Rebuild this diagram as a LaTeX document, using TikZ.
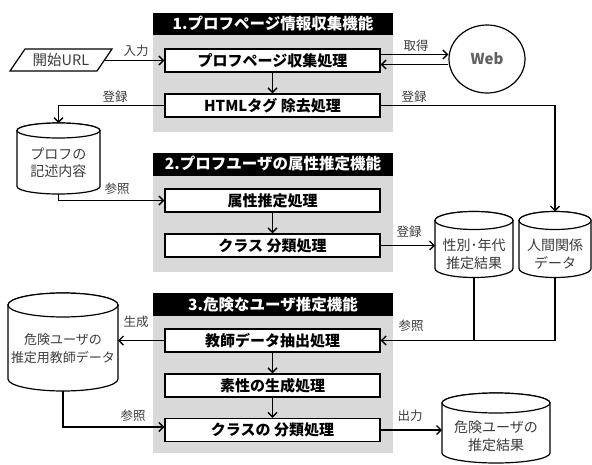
\documentclass[tikz,border=0pt]{standalone}
\usepackage{fontspec}
\setmainfont{Noto Sans CJK JP}
\usetikzlibrary{arrows.meta,shapes.geometric}
\definecolor{panelgray}{RGB}{217,217,217}
\definecolor{txtgray}{RGB}{60,60,60}
\newcommand\dbshape[3]{%
  \draw[dbline] ([yshift=-#2pt]#1.north west) -- ([yshift=#2pt]#1.south west)
    arc[start angle=180,end angle=360,x radius=#3pt,y radius=#2pt]
    -- ([yshift=-#2pt]#1.north east)
    arc[start angle=0,end angle=180,x radius=#3pt,y radius=#2pt] -- cycle;
  \draw[dbline] ([yshift=-#2pt]#1.north) ellipse[x radius=#3pt,y radius=#2pt];
}
\begin{document}
\begin{tikzpicture}[x=1pt,y=-1pt,
  >={Straight Barb[length=4.5pt,width=9pt]},
  conn/.style={draw, line width=1.4pt, ->},
  line/.style={draw, line width=1.4pt},
  proc/.style={draw, line width=1.2pt, fill=white, minimum width=215pt, minimum height=23pt, inner sep=0pt, font=\fontsize{15}{17}\selectfont\bfseries},
  hdr/.style={fill=black, text=white, minimum width=240pt, minimum height=22pt, inner sep=0pt, font=\fontsize{15.5}{17}\selectfont\bfseries},
  panel/.style={fill=panelgray, draw=none, minimum width=240pt, inner sep=0pt, anchor=north west},
  db/.style={rectangle, draw=none, inner sep=0pt, outer sep=0pt},
  dbline/.style={draw, line width=1.2pt, fill=white},
  dbtext/.style={align=center, font=\fontsize{14}{17.5}\selectfont, text=txtgray, inner sep=0pt},
  lbl/.style={font=\fontsize{12.5}{14}\selectfont, inner sep=0pt, text=txtgray}
]
\useasboundingbox (0,0) rectangle (592,464);

% panels
\node[panel, minimum height=97pt] (g1) at (153,35) {};
\node[panel, minimum height=97pt] (g2) at (153,175) {};
\node[panel, minimum height=137pt] (g3) at (153,316) {};
\node[hdr] (h1) at (273,24) {1.プロフページ情報収集機能};
\node[hdr, minimum height=23pt] (h2) at (273,164) {2.プロフユーザの属性推定機能};
\node[hdr, minimum height=23pt] (h3) at (273,304.5) {3.危険なユーザ推定機能};

% process boxes
\node[proc] (b1) at (272.5,60.5) {プロフページ収集処理};
\node[proc] (b2) at (272.5,105.5) {HTMLタグ 除去処理};
\node[proc] (b3) at (272.5,200.5) {属性推定処理};
\node[proc] (b4) at (272.5,245.5) {クラス 分類処理};
\node[proc] (b5) at (272.5,340.5) {教師データ抽出処理};
\node[proc] (b6) at (272.5,385.5) {素性の生成処理};
\node[proc] (b7) at (272.5,430) {クラスの 分類処理};

\draw[conn] (b1) -- (b2);
\draw[conn] (b3) -- (b4);
\draw[conn] (b5) -- (b6);
\draw[conn] (b6) -- (b7);

% start URL
\draw[line width=1.2pt] (25,49) -- (112,49) -- (97,71) -- (10,71) -- cycle;
\node[font=\fontsize{14.5}{16}\selectfont, text=txtgray, inner sep=0pt] (url) at (61,60) {開始URL};
\coordinate (urlout) at (104.5,60.5);
\draw[conn] (urlout) -- (b1.west);
\node[lbl] (l1) at (136,51) {入力};

% web
\node[ellipse, draw, line width=1.2pt, minimum width=76pt, minimum height=68pt, inner sep=0pt, font=\fontsize{15}{17}\selectfont\bfseries, text=black!62] (web) at (487,59) {Web};
\draw[conn] ([yshift=6pt]b1.east) -- ([yshift=6pt]b1.east -| web.west);
\draw[conn] ([yshift=-4pt]b1.east -| web.west) -- ([yshift=-4pt]b1.east);
\node[lbl] (l2) at (416,46) {取得};

% databases
\node[db, minimum width=83pt, minimum height=71pt] (prof) at (58.5,158.5) {};
\dbshape{prof}{7.5}{41.5}
\node[dbtext] (profT) at (58.5,163) {プロフの\\記述内容};
\node[db, minimum width=78pt, minimum height=66pt] (gender) at (474,244.5) {};
\dbshape{gender}{9}{39}
\node[dbtext] (genderT) at (474,254) {性別･年代\\推定結果};
\node[db, minimum width=72pt, minimum height=66pt] (human) at (555,244.5) {};
\dbshape{human}{9}{36}
\node[dbtext] (humanT) at (555,254) {人間関係\\データ};
\node[db, minimum width=110pt, minimum height=98pt] (teacher) at (63,342) {};
\dbshape{teacher}{12}{55}
\node[dbtext, font=\fontsize{13}{18}\selectfont] (teacherT) at (63,349) {危険ユーザの\\推定用教師データ};
\node[db, minimum width=108pt, minimum height=70pt] (result) at (496,428) {};
\dbshape{result}{10}{54}
\node[dbtext] (resultT) at (496,436) {危険ユーザの\\推定結果};

\draw[conn] (b2.west) -| (prof.north);
\node[lbl] (l3) at (115,97) {登録};
\draw[conn] (b2.east) -| (human.north);
\node[lbl] (l4) at (414,97) {登録};

\draw[conn] (prof.south) |- (b3.west);
\node[lbl] (l5) at (117,189) {参照};

\draw[conn] (b4.east) -- (b4.east -| gender.west);
\node[lbl] (l6) at (409,232) {登録};

\draw[line] (human.south) |- (gender.south |- b5.east);
\draw[conn] (gender.south) |- (b5.east);
\node[lbl] (l7) at (411,326) {参照};

\draw[conn] (b5.west) -- (b5.west -| teacher.east);
\node[lbl] (l8) at (136,322) {生成};

\draw[conn] (teacher.south) |- ([yshift=3pt]b7.west);
\node[lbl] (l9) at (133,416) {参照};

\draw[conn] (b7.east) -- (b7.east -| result.west);
\node[lbl] (l10) at (410,416) {出力};
\end{tikzpicture}
\end{document}
